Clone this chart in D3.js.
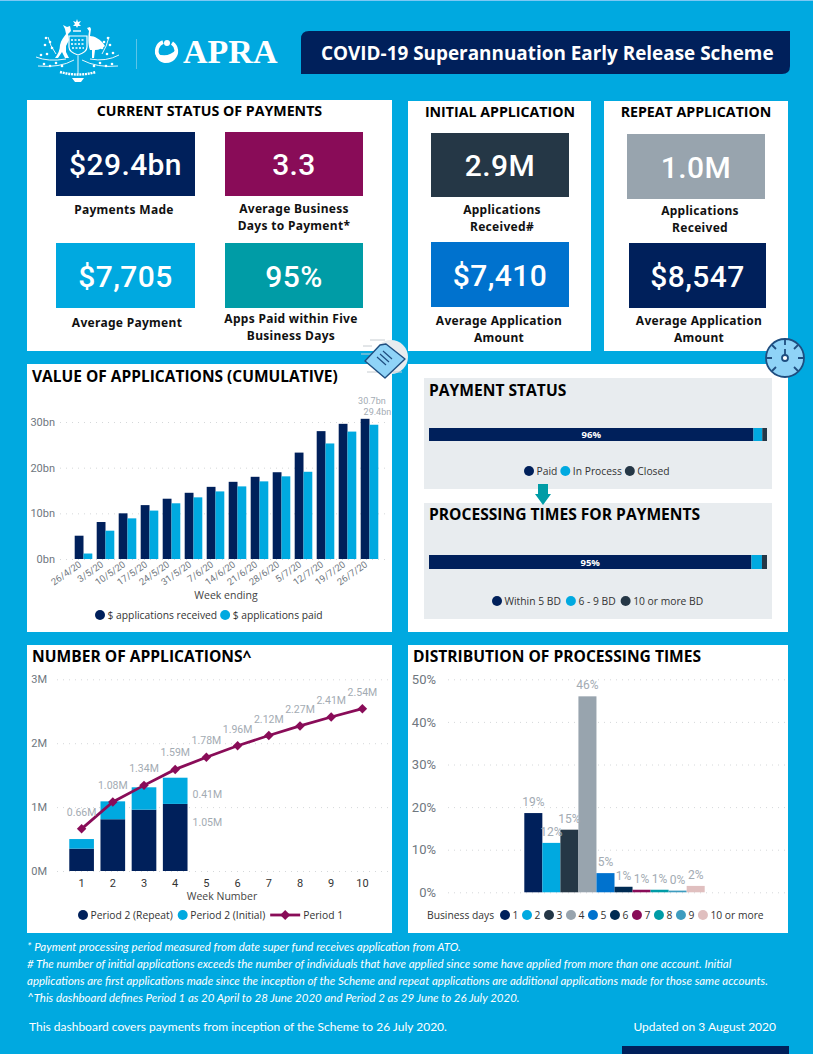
<!DOCTYPE html>
<html>
<head>
<meta charset="utf-8">
<script src="https://cdn.jsdelivr.net/npm/d3@7"></script>
<style>
  html, body { margin: 0; padding: 0; background: #00a9e0; }
  svg { display: block; }
  text { font-family: "Open Sans", sans-serif; }
  .heading { font-weight: 700; fill: #000; }
  .tile-value { font-family: Roboto, sans-serif; font-weight: 500; fill: #fff; text-anchor: middle; letter-spacing: .4px; }
  .tile-label { font-family: "Noto Sans", sans-serif; font-weight: 700; font-size: 12px; fill: #111; text-anchor: middle; letter-spacing: .3px; }
  .tick-label { font-family: Roboto, sans-serif; fill: #6f7780; }
  .data-label { font-family: Roboto, sans-serif; fill: #a3abb3; }
  .legend { font-size: 10.3px; fill: #333; }
  .note { font-family: Lato, sans-serif; font-style: italic; font-size: 11.5px; fill: #fff; }
  .foot { font-family: Lato, sans-serif; font-size: 12px; fill: #fff; }
  .grid line { stroke: #d5d8da; stroke-dasharray: 1 5; }
</style>
</head>
<body>
<script>
const navy = "#00205b";
const cyan = "#00a9e0";
const slate = "#253746";
const grey = "#98a4ae";
const blue = "#0072ce";
const purple = "#890c58";
const teal = "#009ca6";

// value of applications, $bn
const weekEnding = ["26/4/20", "3/5/20", "10/5/20", "17/5/20", "24/5/20", "31/5/20", "7/6/20", "14/6/20", "21/6/20", "28/6/20", "5/7/20", "12/7/20", "19/7/20", "26/7/20"];
const received = [5.1, 8.1, 10.0, 11.8, 13.2, 14.5, 15.8, 16.9, 18.0, 19.0, 23.3, 28.0, 29.6, 30.7];
const paid = [1.2, 6.2, 8.9, 10.6, 12.2, 13.5, 14.8, 15.9, 17.0, 18.1, 19.1, 25.3, 27.9, 29.4];

// number of applications, millions
const weekNumbers = [1, 2, 3, 4, 5, 6, 7, 8, 9, 10];
const period2Repeat = [0.35, 0.81, 0.96, 1.05];
const period2Initial = [0.15, 0.28, 0.35, 0.41];
const period1 = [0.66, 1.08, 1.34, 1.59, 1.78, 1.96, 2.12, 2.27, 2.41, 2.54];

// distribution of processing times, %
const businessDays = ["1", "2", "3", "4", "5", "6", "7", "8", "9", "10 or more"];
const distribution = [18.6, 11.6, 14.7, 46, 4.5, 1.3, 0.6, 0.6, 0.4, 1.5];
const distColours = [navy, cyan, slate, grey, blue, "#002b53", purple, teal, "#3e9cbf", "#e0bfbf"];

// stacked status bars, %
const statusNames = ["Paid", "In Process", "Closed"];
const statusValues = [96, 2.6, 1.4];
const timeNames = ["Within 5 BD", "6 - 9 BD", "10 or more BD"];
const timeValues = [95.4, 3.1, 1.5];
const stackColours = [navy, cyan, slate];

// KPI tiles
const tileValues = ["$29.4bn", "3.3", "$7,705", "95%", "2.9M", "$7,410", "1.0M", "$8,547"];
const tileLabels = [["Payments Made"], ["Average Business", "Days to Payment*"], ["Average Payment"], ["Apps Paid within Five", "Business Days"], ["Applications", "Received#"], ["Average Application", "Amount"], ["Applications", "Received"], ["Average Application", "Amount"]];
const tileColours = [navy, purple, cyan, teal, slate, blue, grey, navy];

const notes = [
  "* Payment processing period measured from date super fund receives application from ATO.",
  "# The number of initial applications exceeds the number of individuals that have applied since some have applied from more than one account. Initial",
  "applications are first applications made since the inception of the Scheme and repeat applications are additional applications made for those same accounts.",
  "^This dashboard defines Period 1 as 20 April to 28 June 2020 and Period 2 as 29 June to 26 July 2020."
];

const svg = d3.select("body").append("svg").attr("width", 813).attr("height", 1054);

svg.append("rect").attr("width", 813).attr("height", 1054).attr("fill", cyan);
svg.append("rect").attr("width", 813).attr("height", 1).attr("fill", "#7cc8f5");

// panels
const panels = [[27, 100, 365, 251], [408, 101, 183, 250], [604, 101, 184, 250], [27, 364, 365, 268], [408, 364, 380, 268], [27, 645, 365, 288], [408, 645, 380, 288]];
svg.selectAll(".panel").data(panels).enter().append("rect")
  .attr("class", "panel")
  .attr("x", (d) => d[0]).attr("y", (d) => d[1])
  .attr("width", (d) => d[2]).attr("height", (d) => d[3])
  .attr("fill", "#fff");

function heading(txt, x, y, size, anchor) {
  svg.append("text").attr("class", "heading").attr("x", x).attr("y", y)
    .attr("text-anchor", anchor || "start").attr("font-size", size).text(txt);
}

// header
svg.append("path")
  .attr("d", "M309,31H790V66Q790,74 782,74H301V39Q301,31 309,31Z")
  .attr("fill", navy);
svg.append("text").attr("x", 321).attr("y", 60).attr("font-size", 18.9).attr("font-weight", 700)
  .attr("fill", "#fff").text("COVID-19 Superannuation Early Release Scheme");

// crest, roughly
const crest = svg.append("g").attr("fill", "none").attr("stroke", "#fff").attr("stroke-width", 0.9);
// kangaroo
crest.append("path").attr("fill", "#fff").attr("stroke", "none")
  .attr("d", "M55,58C58,54 60,50 60,45C61,40 64,37 66,34L65,29L63,25L67,27L70,26L71,31L68,34L69,40L66,46L66,52L69,58H65L62,52L58,58Z");
// emu
crest.append("path").attr("fill", "#fff").attr("stroke", "none")
  .attr("d", "M87,28L90,27L91,29L90,36C94,36 101,39 105,46C103,48 99,50 95,50L94,58H92L92,50H90C88,45 88,37 89,31Z");
// shield
crest.append("path").attr("fill", "none").attr("stroke-width", 1.2).attr("d", "M69,36H87V47Q87,52 78,55Q69,52 69,47Z");
crest.append("path").attr("stroke-width", 1.6).attr("stroke-dasharray", "2 1.5").attr("d", "M71,40H85M71,44H85M72,48H84");
// star and crown
crest.append("path").attr("fill", "#fff").attr("stroke", "none")
  .attr("d", "M77,19L78,22L81,21L79,24L81,26L78,26L77,28L76,26L73,26L75,24L73,21L76,22Z");
crest.append("path").attr("stroke-width", 1.4).attr("d", "M73,31H81");
// wattle branches and scroll
crest.append("path").attr("d", "M36,57Q48,62 66,59M119,55Q106,62 90,59M38,66Q60,68 74,60M118,66Q97,68 82,60M48,37Q50,46 56,54M109,37Q107,46 102,54M78,56V74");
crest.append("path").attr("stroke-width", 2.4).attr("stroke-dasharray", "2 0.8").attr("d", "M60,72Q78,77 96,72");
crest.append("path").attr("fill", "#fff").attr("stroke", "none").attr("d", "M72,78H84L81,82H75Z");
const wattle = [[46, 38], [50, 42], [45, 45], [52, 48], [108, 38], [104, 42], [110, 45], [102, 48], [41, 55], [47, 54], [113, 53], [107, 54], [44, 64], [50, 66], [56, 63], [62, 66], [112, 64], [106, 66], [100, 63], [94, 66]];
crest.selectAll("circle").data(wattle).enter().append("circle")
  .attr("cx", (d) => d[0]).attr("cy", (d) => d[1]).attr("r", 1.3).attr("fill", "#fff").attr("stroke", "none");
svg.append("line").attr("x1", 136.5).attr("x2", 136.5).attr("y1", 39).attr("y2", 69).attr("stroke", "#5cc4e8");

// APRA mark
svg.append("path").attr("fill", "none").attr("stroke", "#fff").attr("stroke-width", 3.6)
  .attr("d", "M163,42A9.8,9.8 0 1 0 172,43");
svg.append("path").attr("fill", "#fff").attr("d", "M155,52Q166,60 177,49Q176,62 165,63Q157,62 155,52Z");
svg.append("circle").attr("cx", 167).attr("cy", 43).attr("r", 3).attr("fill", "#fff");
svg.append("text").attr("x", 183).attr("y", 63).attr("font-size", 34).attr("font-weight", 700)
  .style("font-family", "Liberation Serif").attr("fill", "#fff").text("APRA");

heading("CURRENT STATUS OF PAYMENTS", 209.5, 116, 14.2, "middle");
heading("INITIAL APPLICATION", 500, 117, 14.2, "middle");
heading("REPEAT APPLICATION", 696, 117, 14.2, "middle");

// tile boxes and label baselines sit apart from the values
const tileBoxes = [[56, 132, 139, 64], [225, 132, 138, 64], [56, 243, 139, 65], [225, 243, 138, 65], [431, 133, 138, 64], [431, 242, 138, 65], [627, 134, 138, 65], [629, 243, 137, 65]];
const tileLabelAt = [[124, 214], [294, 213], [127, 327], [291, 323], [502, 214], [499, 325], [700, 215], [699, 325]];

const tiles = svg.selectAll(".tile").data(tileValues).enter().append("g").attr("class", "tile");
tiles.append("rect")
  .attr("x", (d, i) => tileBoxes[i][0]).attr("y", (d, i) => tileBoxes[i][1])
  .attr("width", (d, i) => tileBoxes[i][2]).attr("height", (d, i) => tileBoxes[i][3])
  .attr("fill", (d, i) => tileColours[i]);
tiles.append("text").attr("class", "tile-value")
  .attr("x", (d, i) => tileBoxes[i][0] + tileBoxes[i][2] / 2)
  .attr("y", (d, i) => tileBoxes[i][1] + tileBoxes[i][3] / 2 + 11)
  .attr("font-size", 30).text((d) => d);
tiles.each(function (d, i) {
  const t = d3.select(this);
  tileLabels[i].forEach((line, j) => {
    t.append("text").attr("class", "tile-label")
      .attr("x", tileLabelAt[i][0]).attr("y", tileLabelAt[i][1] + j * 17).text(line);
  });
});

// legend helper: lays items left to right using the measured text widths
function legend(x, y, names, colours, gap) {
  names.forEach((name, i) => {
    svg.append("circle").attr("cx", x).attr("cy", y).attr("r", 5).attr("fill", colours[i]);
    const t = svg.append("text").attr("class", "legend").attr("x", x + 7.5).attr("y", y + 3.7).text(name);
    x += 7.5 + t.node().getComputedTextLength() + gap + 5;
  });
  return x;
}

function gridLines(scale, x1, x2, ticks) {
  svg.append("g").attr("class", "grid")
    .attr("transform", "translate(" + x2 + ",0)")
    .call(d3.axisLeft(scale).tickValues(ticks).tickSize(x2 - x1).tickFormat(""))
    .call((g) => g.select(".domain").remove());
}

function yTicks(scale, x, ticks, fmt, size) {
  const g = svg.append("g").attr("transform", "translate(" + x + ",0)")
    .call(d3.axisLeft(scale).tickValues(ticks).tickSize(0).tickPadding(0).tickFormat(fmt));
  g.select(".domain").remove();
  g.selectAll("text").attr("class", "tick-label").attr("font-size", size);
}

// ---- value of applications
heading("VALUE OF APPLICATIONS (CUMULATIVE)", 32, 381.5, 15.5);

const yValue = d3.scaleLinear().domain([0, 30]).range([559, 422]);
const xValue = d3.scaleBand().domain(weekEnding).range([72.5, 380.5]).paddingInner(0.2).paddingOuter(0.1);
const xValueInner = d3.scaleBand().domain(["received", "paid"]).range([0, xValue.bandwidth()]);

gridLines(yValue, 60, 385, [0, 10, 20, 30]);
yTicks(yValue, 55, [0, 10, 20, 30], (d) => d + "bn", 11);

[[received, "received", navy], [paid, "paid", cyan]].forEach(([vals, key, colour]) => {
  svg.append("g").selectAll("rect").data(vals).enter().append("rect")
    .attr("x", (d, i) => xValue(weekEnding[i]) + xValueInner(key))
    .attr("y", (d) => yValue(d))
    .attr("width", xValueInner.bandwidth())
    .attr("height", (d) => yValue(0) - yValue(d))
    .attr("fill", colour);
});

const xValueAxis = svg.append("g").attr("transform", "translate(0,559)")
  .call(d3.axisBottom(xValue).tickSize(0).tickPadding(4));
xValueAxis.select(".domain").remove();
xValueAxis.selectAll("text").attr("class", "tick-label").attr("font-size", 9.5)
  .attr("text-anchor", "end").attr("dx", -5).attr("dy", "0.1em")
  .attr("transform", "rotate(-35)");

const lastWeek = weekEnding[weekEnding.length - 1];
svg.append("text").attr("class", "data-label").attr("x", xValue(lastWeek) + 25).attr("y", 403.5)
  .attr("text-anchor", "end").attr("font-size", 9).text(received[received.length - 1].toFixed(1) + "bn");
svg.append("text").attr("class", "data-label").attr("x", xValue(lastWeek) + 30.5).attr("y", 414.5)
  .attr("text-anchor", "end").attr("font-size", 9).text(paid[paid.length - 1].toFixed(1) + "bn");

svg.append("text").attr("x", 226).attr("y", 599).attr("text-anchor", "middle").attr("font-size", 10.5)
  .attr("fill", "#444").text("Week ending");
legend(100, 615, ["$ applications received", "$ applications paid"], [navy, cyan], 3);

// ---- payment status and processing times
svg.append("rect").attr("x", 424).attr("y", 378).attr("width", 348).attr("height", 111).attr("fill", "#e8ecef");
svg.append("rect").attr("x", 424).attr("y", 503).attr("width", 348).attr("height", 116).attr("fill", "#e8ecef");
heading("PAYMENT STATUS", 429, 395.5, 15.6);
heading("PROCESSING TIMES FOR PAYMENTS", 429, 519.5, 15.6);

const xStack = d3.scaleLinear().domain([0, 100]).range([429, 767]);

function stackedBar(vals, y, h, label) {
  let sum = 0;
  const spans = vals.map((v) => { const s = [sum, sum + v]; sum += v; return s; });
  svg.append("g").selectAll("rect").data(spans).enter().append("rect")
    .attr("x", (d) => xStack(d[0])).attr("y", y)
    .attr("width", (d) => xStack(d[1]) - xStack(d[0])).attr("height", h)
    .attr("fill", (d, i) => stackColours[i]);
  svg.append("text").attr("x", xStack(vals[0] / 2)).attr("y", y + h / 2 + 3.5)
    .attr("text-anchor", "middle").attr("font-size", 9.5).attr("font-weight", 700)
    .attr("fill", "#fff").text(label);
}
stackedBar(statusValues, 428, 13, "96%");
stackedBar(timeValues, 555, 14, "95%");
legend(529, 471, statusNames, stackColours, 3);
legend(497, 601, timeNames, stackColours, 5);

svg.append("path").attr("fill", teal)
  .attr("d", "M538,484H548V494H551L543,505L535,494H538Z");

// ---- number of applications
heading("NUMBER OF APPLICATIONS^", 32, 661.5, 15.6);

const yApps = d3.scaleLinear().domain([0, 3]).range([871, 679.3]);
const xApps = d3.scaleBand().domain(weekNumbers).range([66, 378]).paddingInner(0.21).paddingOuter(0.105);

gridLines(yApps, 57, 388, [0, 1, 2, 3]);
yTicks(yApps, 47, [0, 1, 2, 3], (d) => d + "M", 11);

const appsRows = period2Repeat.map((d, i) => ({ week: weekNumbers[i], repeat: d, initial: period2Initial[i] }));
const appsStack = d3.stack().keys(["repeat", "initial"])(appsRows);
const appsColours = [navy, cyan];
svg.append("g").selectAll("g").data(appsStack).enter().append("g")
  .attr("fill", (d, i) => appsColours[i])
  .selectAll("rect").data((d) => d).enter().append("rect")
  .attr("x", (d) => xApps(d.data.week))
  .attr("y", (d) => yApps(d[1]))
  .attr("width", xApps.bandwidth())
  .attr("height", (d) => yApps(d[0]) - yApps(d[1]));

const xAppsMid = (w) => xApps(w) + xApps.bandwidth() / 2;
const appsLine = d3.line().x((d, i) => xAppsMid(weekNumbers[i])).y((d) => yApps(d));
svg.append("path").datum(period1).attr("d", appsLine).attr("fill", "none")
  .attr("stroke", purple).attr("stroke-width", 2.8);
svg.append("g").selectAll("path").data(period1).enter().append("path")
  .attr("d", d3.symbol(d3.symbolSquare, 45))
  .attr("transform", (d, i) => "translate(" + xAppsMid(weekNumbers[i]) + "," + yApps(d) + ") rotate(45)")
  .attr("fill", purple);
svg.append("g").selectAll("text").data(period1).enter().append("text")
  .attr("class", "data-label").attr("font-size", 10.5).attr("text-anchor", "middle")
  .attr("x", (d, i) => xAppsMid(weekNumbers[i]))
  .attr("y", (d) => yApps(d) - 13)
  .text((d) => d.toFixed(2) + "M");

const week4Right = xApps(4) + xApps.bandwidth() + 5;
svg.append("text").attr("class", "data-label").attr("font-size", 10.5).attr("x", week4Right).attr("y", 798)
  .text(period2Initial[3].toFixed(2) + "M");
svg.append("text").attr("class", "data-label").attr("font-size", 10.5).attr("x", week4Right).attr("y", 826)
  .text(period2Repeat[3].toFixed(2) + "M");

const xAppsAxis = svg.append("g").attr("transform", "translate(0,871)")
  .call(d3.axisBottom(xApps).tickSize(0).tickPadding(8));
xAppsAxis.select(".domain").remove();
xAppsAxis.selectAll("text").attr("class", "tick-label").attr("font-size", 11).style("fill", "#333");
svg.append("text").attr("x", 222).attr("y", 900).attr("text-anchor", "middle").attr("font-size", 10.5)
  .attr("fill", "#444").text("Week Number");

const afterBars = legend(83, 915, ["Period 2 (Repeat)", "Period 2 (Initial)"], [navy, cyan], 5);
const keyX = afterBars - 5;
svg.append("line").attr("x1", keyX).attr("x2", keyX + 30).attr("y1", 915).attr("y2", 915)
  .attr("stroke", purple).attr("stroke-width", 2.8);
svg.append("path").attr("d", d3.symbol(d3.symbolSquare, 50))
  .attr("transform", "translate(" + (keyX + 15) + ",915) rotate(45)").attr("fill", purple);
svg.append("text").attr("class", "legend").attr("x", keyX + 33).attr("y", 918.7).text("Period 1");

// ---- distribution of processing times
heading("DISTRIBUTION OF PROCESSING TIMES", 413, 661.5, 15.6);

const yDist = d3.scaleLinear().domain([0, 50]).range([892.3, 679.3]);
const xDist = d3.scaleBand().domain(businessDays).range([524.3, 704.7]);

gridLines(yDist, 447, 785, [0, 10, 20, 30, 40, 50]);
yTicks(yDist, 436, [0, 10, 20, 30, 40, 50], (d) => d + "%", 13);

svg.append("g").selectAll("rect").data(distribution).enter().append("rect")
  .attr("x", (d, i) => xDist(businessDays[i]))
  .attr("y", (d) => yDist(d))
  .attr("width", xDist.bandwidth())
  .attr("height", (d) => yDist(0) - yDist(d))
  .attr("fill", (d, i) => distColours[i]);
svg.append("g").selectAll("text").data(distribution).enter().append("text")
  .attr("class", "data-label").attr("font-size", 12).attr("text-anchor", "middle")
  .attr("x", (d, i) => xDist(businessDays[i]) + xDist.bandwidth() / 2)
  .attr("y", (d) => yDist(d) - 7)
  .text((d) => d3.format(".0f")(d) + "%");

svg.append("text").attr("class", "legend").attr("x", 427).attr("y", 918.7).text("Business days");
legend(505, 915, businessDays, distColours, 3.6);

// ---- footnotes
svg.append("g").selectAll("text").data(notes).enter().append("text")
  .attr("class", "note").attr("x", 27).attr("y", (d, i) => 950.5 + i * 17).text((d) => d);
svg.append("text").attr("class", "foot").attr("x", 29).attr("y", 1031)
  .text("This dashboard covers payments from inception of the Scheme to 26 July 2020.");
svg.append("text").attr("class", "foot").attr("x", 776).attr("y", 1031).attr("text-anchor", "end")
  .text("Updated on 3 August 2020");
svg.append("rect").attr("x", 622).attr("y", 1046).attr("width", 167).attr("height", 8).attr("fill", navy);

// ---- decoration icons
const clip = svg.append("g");
clip.append("circle").attr("cx", 391).attr("cy", 357).attr("r", 17).attr("fill", "#e8ecef");
clip.append("path").attr("d", "M370,340H385M363,346H372M361,354H372M367,372H380M393,372H402")
  .attr("stroke", "#c6ccd1").attr("stroke-width", 1);
clip.append("path").attr("d", "M380,345L386,344L405,359L385,378L365,361Z")
  .attr("fill", "#8fd3f7").attr("stroke", "#1f4e80").attr("stroke-width", 1.4).attr("stroke-linejoin", "round");
clip.append("path").attr("d", "M377,357L386,365M380,354L389,362M383,351L392,359")
  .attr("stroke", "#1f4e80").attr("stroke-width", 1.2);

const gauge = svg.append("g").attr("transform", "translate(785,358)").attr("stroke", "#1f4e80").attr("stroke-width", 1.8);
gauge.append("circle").attr("r", 19).attr("fill", "#8fd3f7");
gauge.append("path").attr("d", "M-19,0H-13M13,0H19M0,-19V-13M-13,-13L-9,-9M13,-13L9,-9M-13,13L-9,9M13,13L9,9M0,-9V-3").attr("fill", "none");
gauge.append("circle").attr("r", 3).attr("fill", "#fff");
</script>
</body>
</html>
